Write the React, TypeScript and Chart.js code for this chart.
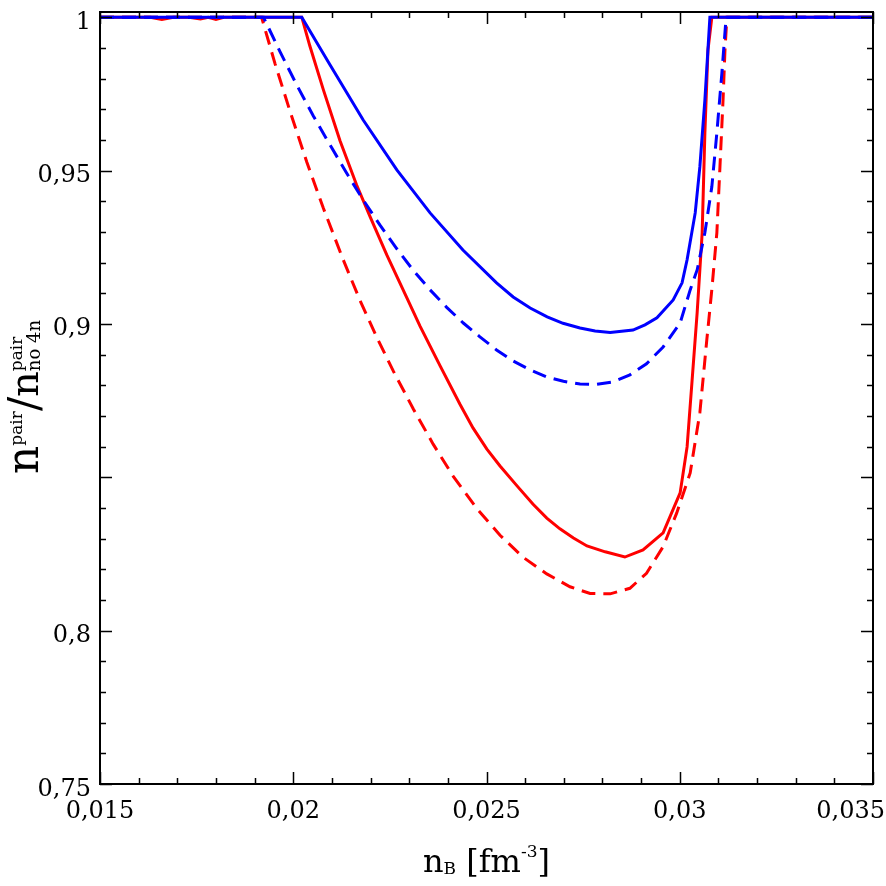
import React, { useEffect, useRef } from "react";
import { Chart, registerables } from "chart.js";

Chart.register(...registerables);

// ---- data ----
const blueSolidX = [0.015, 0.02022, 0.02095, 0.02181, 0.02268, 0.02354, 0.02439, 0.02526, 0.02569, 0.02613, 0.02657, 0.02698, 0.02742, 0.02781, 0.0282, 0.02879, 0.0291, 0.02941, 0.02983, 0.03006, 0.03019, 0.0304, 0.03052, 0.03065, 0.03078, 0.035];
const blueSolidY = [1, 1, 0.9845, 0.9665, 0.9502, 0.9362, 0.9241, 0.9134, 0.9088, 0.9052, 0.9023, 0.9002, 0.8987, 0.8977, 0.8972, 0.898, 0.8997, 0.902, 0.9078, 0.9134, 0.9209, 0.9362, 0.9512, 0.973, 1, 1];

const blueDashX = [0.015, 0.01923, 0.01966, 0.02009, 0.02052, 0.02095, 0.02138, 0.02181, 0.02224, 0.02268, 0.02311, 0.02354, 0.02397, 0.0244, 0.02483, 0.02526, 0.02569, 0.02613, 0.02656, 0.02699, 0.02742, 0.02785, 0.02827, 0.02871, 0.02914, 0.02957, 0.03001, 0.03027, 0.03045, 0.03065, 0.03083, 0.03096, 0.03109, 0.0312, 0.035];
const blueDashY = [1, 1, 0.9887, 0.9779, 0.9678, 0.9584, 0.9492, 0.9404, 0.9323, 0.9245, 0.9174, 0.9111, 0.9054, 0.9003, 0.8958, 0.8915, 0.8879, 0.885, 0.8827, 0.8813, 0.8804, 0.8803, 0.8811, 0.8834, 0.887, 0.8925, 0.9003, 0.9111, 0.9176, 0.9297, 0.9447, 0.9623, 0.9818, 1, 1];

const redSolidX = [0.015, 0.0163, 0.0166, 0.0169, 0.0173, 0.0176, 0.0178, 0.018, 0.0182, 0.02022, 0.02043, 0.02078, 0.02121, 0.02164, 0.02199, 0.02242, 0.02294, 0.02328, 0.0238, 0.02431, 0.02465, 0.02501, 0.02535, 0.02579, 0.0262, 0.02656, 0.0269, 0.02725, 0.0276, 0.02807, 0.02858, 0.02905, 0.02957, 0.03001, 0.03019, 0.03032, 0.03045, 0.03058, 0.03065, 0.03073, 0.03083, 0.035];
const redSolidY = [1, 1, 0.9993, 1, 1, 0.9994, 1, 0.9993, 1, 1, 0.9906, 0.9763, 0.9597, 0.9453, 0.9349, 0.9225, 0.9085, 0.8993, 0.8863, 0.8739, 0.8661, 0.8592, 0.8537, 0.8472, 0.8413, 0.8367, 0.8332, 0.8302, 0.8276, 0.8257, 0.824, 0.8263, 0.8319, 0.8449, 0.8599, 0.8817, 0.9036, 0.9297, 0.9623, 0.9893, 1, 1];

const redDashX = [0.015, 0.01918, 0.01953, 0.01992, 0.02035, 0.02078, 0.0213, 0.02173, 0.02216, 0.02259, 0.02311, 0.02362, 0.02414, 0.02475, 0.02535, 0.02595, 0.02656, 0.02716, 0.02768, 0.0282, 0.02871, 0.02914, 0.02957, 0.02992, 0.03027, 0.03052, 0.0307, 0.03083, 0.03096, 0.03104, 0.03112, 0.03117, 0.03122, 0.035];
const redDashY = [1, 1, 0.9848, 0.9692, 0.9528, 0.9377, 0.9207, 0.9076, 0.8957, 0.8846, 0.8722, 0.8608, 0.8503, 0.8398, 0.8311, 0.8239, 0.8185, 0.8143, 0.8121, 0.812, 0.8138, 0.8187, 0.8274, 0.8383, 0.8514, 0.871, 0.8948, 0.9112, 0.9297, 0.9512, 0.973, 0.9893, 1, 1];

// ---- axes ----
const xMin = 0.015;
const xMax = 0.035;
const yMin = 0.75;
const yMax = 1.0017;
const xTickValues = [0.015, 0.02, 0.025, 0.03, 0.035];
const xTickLabels = ["0,015", "0,02", "0,025", "0,03", "0,035"];
const yTickValues = [0.75, 0.8, 0.9, 0.95, 1];
const yTickLabels = ["0,75", "0,8", "0,9", "0,95", "1"];
const xMajorStep = 0.005;
const xMinorStep = 0.001;
const yMajorStep = 0.05;
const yMinorStep = 0.01;

const FONT = "'DejaVu Serif', serif";

const pts = (xs: number[], ys: number[]) => xs.map((x, i) => ({ x, y: ys[i] }));

type Run = { t: string; size: number; dy: number; stackSup?: { t: string; size: number; dy: number } };

function runWidth(ctx: CanvasRenderingContext2D, r: Run) {
  ctx.font = `${r.size}px ${FONT}`;
  let w = ctx.measureText(r.t).width;
  if (r.stackSup) {
    ctx.font = `${r.stackSup.size}px ${FONT}`;
    w = Math.max(w, ctx.measureText(r.stackSup.t).width);
  }
  return w;
}

function drawRuns(ctx: CanvasRenderingContext2D, runs: Run[], cx: number) {
  const total = runs.reduce((s, r) => s + runWidth(ctx, r), 0);
  let x = cx - total / 2;
  ctx.textAlign = "left";
  ctx.textBaseline = "alphabetic";
  for (const r of runs) {
    const w = runWidth(ctx, r);
    ctx.font = `${r.size}px ${FONT}`;
    ctx.fillText(r.t, x, r.dy);
    if (r.stackSup) {
      ctx.font = `${r.stackSup.size}px ${FONT}`;
      ctx.fillText(r.stackSup.t, x, r.stackSup.dy);
    }
    x += w;
  }
}

const framePlugin = {
  id: "framePlugin",
  afterDraw(chart: any) {
    const ctx: CanvasRenderingContext2D = chart.ctx;
    const { left, right, top, bottom } = chart.chartArea;
    const xs = chart.scales.x;
    const ys = chart.scales.y;
    ctx.save();
    ctx.strokeStyle = "#000";
    ctx.fillStyle = "#000";
    // ticks
    ctx.lineWidth = 1.5;
    ctx.beginPath();
    const nx = Math.round((xMax - xMin) / xMinorStep);
    for (let i = 0; i <= nx; i++) {
      const v = xMin + i * xMinorStep;
      const major = i % Math.round(xMajorStep / xMinorStep) === 0;
      const len = major ? 12 : 6;
      const px = Math.round(xs.getPixelForValue(v)) + 0.5;
      ctx.moveTo(px, bottom);
      ctx.lineTo(px, bottom - len);
      ctx.moveTo(px, top);
      ctx.lineTo(px, top + len);
    }
    const ny = Math.round((1 - yMin) / yMinorStep);
    for (let i = 0; i <= ny; i++) {
      const v = yMin + i * yMinorStep;
      const major = i % Math.round(yMajorStep / yMinorStep) === 0;
      const len = major ? 12 : 6;
      const py = Math.round(ys.getPixelForValue(v)) + 0.5;
      ctx.moveTo(left, py);
      ctx.lineTo(left + len, py);
      ctx.moveTo(right, py);
      ctx.lineTo(right - len, py);
    }
    ctx.stroke();
    // frame
    ctx.lineWidth = 2;
    ctx.strokeRect(left, top, right - left, bottom - top);

    // tick labels
    ctx.font = `24px ${FONT}`;
    ctx.textBaseline = "alphabetic";
    ctx.textAlign = "right";
    yTickValues.forEach((v, i) => {
      ctx.fillText(yTickLabels[i], left - 9, ys.getPixelForValue(v) + 11.5);
    });
    const cw = chart.width;
    xTickValues.forEach((v, i) => {
      const px = xs.getPixelForValue(v);
      const w = ctx.measureText(xTickLabels[i]).width;
      let lx = px - w / 2;
      if (lx + w > cw - 1) lx = cw - 1 - w;
      ctx.textAlign = "left";
      ctx.fillText(xTickLabels[i], lx, bottom + 34);
    });

    // x title
    ctx.save();
    ctx.translate(0, 872);
    drawRuns(
      ctx,
      [
        { t: "n", size: 32, dy: 0 },
        { t: "B", size: 17, dy: 2 },
        { t: " [fm", size: 32, dy: 0 },
        { t: "-3", size: 17, dy: -15 },
        { t: "]", size: 32, dy: 0 },
      ],
      (left + right) / 2
    );
    ctx.restore();

    // y title (rotated)
    ctx.save();
    ctx.translate(38, 397);
    ctx.rotate(-Math.PI / 2);
    drawRuns(
      ctx,
      [
        { t: "n", size: 44, dy: 0 },
        { t: "pair", size: 17, dy: -16 },
        { t: "/", size: 42, dy: 0 },
        { t: "n", size: 40, dy: 0 },
        { t: "no 4n", size: 18, dy: 2, stackSup: { t: "pair", size: 17, dy: -16 } },
      ],
      0
    );
    ctx.restore();

    ctx.restore();
  },
};

export default function App() {
  const ref = useRef<HTMLCanvasElement | null>(null);
  useEffect(() => {
    if (!ref.current) return;
    const common = { showLine: true, pointRadius: 0, borderWidth: 3, fill: false, tension: 0 };
    const chart = new Chart(ref.current, {
      type: "scatter",
      data: {
        datasets: [
          { ...common, label: "blue solid", data: pts(blueSolidX, blueSolidY), borderColor: "#0000ff" },
          { ...common, label: "blue dashed", data: pts(blueDashX, blueDashY), borderColor: "#0000ff", borderDash: [14, 8] },
          { ...common, label: "red solid", data: pts(redSolidX, redSolidY), borderColor: "#ff0000" },
          { ...common, label: "red dashed", data: pts(redDashX, redDashY), borderColor: "#ff0000", borderDash: [14, 8] },
        ],
      },
      options: {
        animation: false,
        responsive: false,
        devicePixelRatio: 1,
        layout: { padding: { left: 100, right: 13, top: 12, bottom: 102 } },
        plugins: { legend: { display: false }, tooltip: { enabled: false } },
        scales: {
          x: { type: "linear", min: xMin, max: xMax, display: false },
          y: { type: "linear", min: yMin, max: yMax, display: false },
        },
      },
      plugins: [framePlugin],
    } as any);
    return () => chart.destroy();
  }, []);
  return (
    <div style={{ position: "absolute", left: 0, top: 0, width: 886, height: 886, background: "#fff" }}>
      <canvas ref={ref} width={886} height={886} />
    </div>
  );
}
